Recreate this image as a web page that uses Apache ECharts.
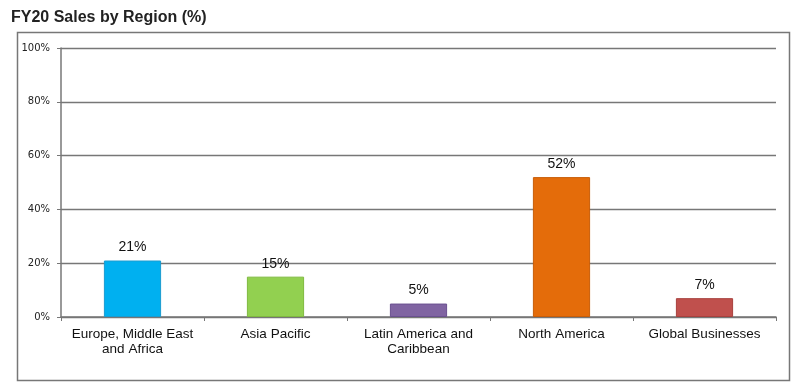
<!DOCTYPE html>
<html><head><meta charset="utf-8">
<script src="https://cdn.jsdelivr.net/npm/echarts@6/dist/echarts.min.js"></script>
<style>html,body{margin:0;padding:0;background:#fff}#c{width:800px;height:390px}</style>
</head><body><div id="c"></div>
<script>
const categories = ['Europe, Middle East\nand Africa', 'Asia Pacific', 'Latin America and\nCaribbean', 'North America', 'Global Businesses'];
const values = [21, 15, 5, 52, 7];
const barColors = ['#00B0F0', '#92D050', '#8064A2', '#E46C0A', '#C0504D'];
const borderColors = ['#1a9bd0', '#7fb93f', '#6a5090', '#c85d08', '#a8403d'];
const yTicks = [0, 20, 40, 60, 80, 100];

const chart = echarts.init(document.getElementById('c'));
chart.setOption({
  animation: false,
  title: {
    text: 'FY20 Sales by Region (%)', left: 6, top: 5,
    textStyle: {fontFamily: 'Liberation Sans', fontWeight: 'bold', fontSize: 16, color: '#222'}
  },
  graphic: [{
    type: 'rect', shape: {x: 17.5, y: 32.5, width: 772, height: 348},
    style: {fill: 'none', stroke: '#777', lineWidth: 1.5}, silent: true
  }],
  grid: {left: 61, right: 24, top: 48, bottom: 73},
  xAxis: {
    type: 'category', data: categories,
    axisLine: {lineStyle: {color: '#777', width: 1.5}},
    axisTick: {show: true, length: 4, lineStyle: {color: '#777'}},
    axisLabel: {interval: 0, hideOverlap: false, fontFamily: 'Liberation Sans', fontSize: 13.5, color: '#111', margin: 10, lineHeight: 15}
  },
  yAxis: {
    type: 'value', min: 0, max: 100, interval: 20,
    axisLine: {show: true, lineStyle: {color: '#777', width: 1.5}},
    axisTick: {show: true, length: 4, lineStyle: {color: '#777'}},
    splitLine: {lineStyle: {color: '#777', width: 1.3}},
    axisLabel: {fontFamily: 'DejaVu Sans', fontSize: 10, color: '#222', margin: 11,
      formatter: v => yTicks.includes(v) ? v + '%' : ''}
  },
  series: [{
    type: 'bar', barWidth: '40%',
    data: values.map((v, i) => ({value: v, itemStyle: {color: barColors[i], borderColor: borderColors[i], borderWidth: 1}})),
    label: {show: true, position: 'top', distance: 6, formatter: '{c}%',
      fontFamily: 'Liberation Sans', fontSize: 14, color: '#111'}
  }]
});
</script></body></html>
